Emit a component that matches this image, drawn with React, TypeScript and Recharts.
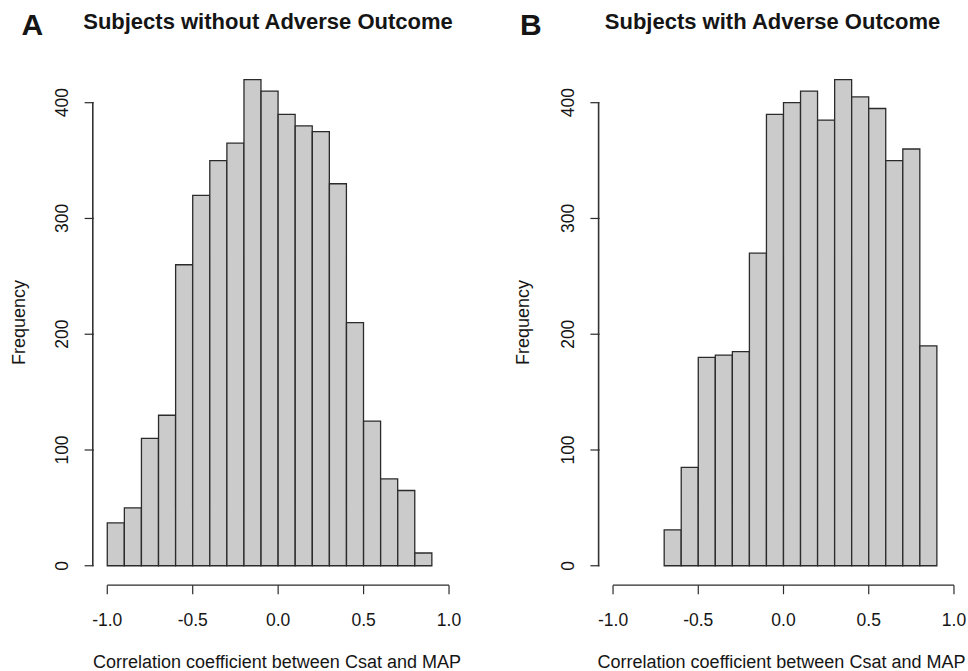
import React from 'react';
import { BarChart, Bar, XAxis, YAxis, ReferenceLine } from 'recharts';

// Bin start labels (bin width 0.1, from -1.0 to 1.0)
const binStarts = ['-1.0', '-0.9', '-0.8', '-0.7', '-0.6', '-0.5', '-0.4', '-0.3', '-0.2', '-0.1', '0.0', '0.1', '0.2', '0.3', '0.4', '0.5', '0.6', '0.7', '0.8', '0.9'];
const binMids = [-0.95, -0.85, -0.75, -0.65, -0.55, -0.45, -0.35, -0.25, -0.15, -0.05, 0.05, 0.15, 0.25, 0.35, 0.45, 0.55, 0.65, 0.75, 0.85, 0.95];

// Panel A: subjects without adverse outcome
const withoutCounts: (number | null)[] = [37, 50, 110, 130, 260, 320, 350, 365, 420, 410, 390, 380, 375, 330, 210, 125, 75, 65, 11, null];
// Panel B: subjects with adverse outcome
const withCounts: (number | null)[] = [null, null, null, 31, 85, 180, 182, 185, 270, 390, 400, 410, 385, 420, 405, 395, 350, 360, 190, null];

const xTicks = [-1, -0.5, 0, 0.5, 1];
const yTicks = [0, 100, 200, 300, 400];
const xDomain: [number, number] = [-1.08, 1.08];
const yDomain: [number, number] = [-16.8, 436.8];

const titleA = 'Subjects without Adverse Outcome';
const titleB = 'Subjects with Adverse Outcome';
const xLabel = 'Correlation coefficient between Csat and MAP';
const yLabel = 'Frequency';

const FONT = '"Liberation Sans", Arial, Helvetica, sans-serif';
const INK = '#151515';
const LINE = '#2b2b2b';

const CH_W = 484;
const CH_H = 671;
const PLOT_TOP = 60.1;
const PLOT_BOTTOM = 585.2;
const YAXIS_W = 60;
const XAXIS_H = 30;
const Y_TICK_SIZE = 9;
const Y_TICK_MARGIN = 16.3;
const PX_PER_UNIT = (PLOT_BOTTOM - PLOT_TOP) / (yDomain[1] - yDomain[0]);

// Y tick: rotated label (R style) plus the piece of axis line up to the next tick,
// so the axis line spans only the tick range, as in R.
const YTick = (props: any) => {
  const { x, y, payload } = props;
  const axisX = x + Y_TICK_SIZE + Y_TICK_MARGIN - 0.8;
  const v = Number(payload.value);
  const i = yTicks.indexOf(v);
  const next = i >= 0 ? yTicks[i + 1] : undefined;
  return (
    <g>
      {next !== undefined && (
        <line x1={axisX} y1={y + 0.6} x2={axisX} y2={y - (next - v) * PX_PER_UNIT - 0.6} stroke="#333333" strokeWidth={1.6} />
      )}
      <text x={x} y={y} transform={`rotate(-90, ${x}, ${y})`} textAnchor="middle" fontSize={17.5} fill={INK} fontFamily={FONT}>
        {payload.value}
      </text>
    </g>
  );
};

function Panel({ counts, plotLeft, plotRight }: { counts: (number | null)[]; plotLeft: number; plotRight: number }) {
  const plotW = plotRight - plotLeft;
  const pad = (plotW * 0.08) / 2.16;
  const data = binStarts.map((b, i) => ({ bin: b, mid: binMids[i], count: counts[i] }));
  return (
    <BarChart
      width={CH_W}
      height={CH_H}
      data={data}
      margin={{ top: PLOT_TOP, right: CH_W - plotRight, bottom: CH_H - PLOT_BOTTOM - XAXIS_H, left: plotLeft - YAXIS_W }}
      barCategoryGap={0}
      barGap={0}
    >
      <XAxis xAxisId="num" dataKey="mid" type="number" domain={xDomain} allowDataOverflow ticks={xTicks} interval={0} height={XAXIS_H}
        axisLine={false} tickLine={{ stroke: LINE, strokeWidth: 1.2 }} tickSize={9} tickMargin={19.4}
        tickFormatter={(v: number) => v.toFixed(1)} tick={{ fontSize: 17.5, fill: INK, fontFamily: FONT }} />
      <XAxis xAxisId="bins" dataKey="bin" type="category" hide height={0} padding={{ left: pad, right: pad }} />
      <YAxis yAxisId="y" type="number" domain={yDomain} allowDataOverflow ticks={yTicks} interval={0} width={YAXIS_W}
        axisLine={false} tickLine={{ stroke: LINE, strokeWidth: 1.2 }} tickSize={Y_TICK_SIZE} tickMargin={Y_TICK_MARGIN} tick={<YTick />} />
      <Bar xAxisId="bins" yAxisId="y" dataKey="count" fill="#cbcbcb" stroke={LINE} strokeWidth={1.3} isAnimationActive={false} />
      <ReferenceLine xAxisId="num" yAxisId="y"
        segment={[{ x: xTicks[0], y: yDomain[0] }, { x: xTicks[xTicks.length - 1], y: yDomain[0] }]}
        stroke={LINE} strokeWidth={1.2} ifOverflow="visible" />
    </BarChart>
  );
}

export default function App() {
  return (
    <div style={{ position: 'absolute', left: 0, top: 0, width: 968, height: 671, background: '#fff', fontFamily: FONT }}>
      <div style={{ position: 'absolute', left: 0, top: 0 }}>
        <Panel counts={withoutCounts} plotLeft={93.6} plotRight={462.7} />
      </div>
      <div style={{ position: 'absolute', left: 484, top: 0 }}>
        <Panel counts={withCounts} plotLeft={115.4} plotRight={483.6} />
      </div>
      <svg width={968} height={671} style={{ position: 'absolute', left: 0, top: 0, pointerEvents: 'none' }}>
        <g fontFamily={FONT} fill={INK}>
          <text x={21.5} y={35} fontSize={30} fontWeight="bold">A</text>
          <text x={520} y={35} fontSize={30} fontWeight="bold">B</text>
          <text x={268} y={28.5} fontSize={22} fontWeight="bold" textAnchor="middle">{titleA}</text>
          <text x={772.5} y={28.5} fontSize={22} fontWeight="bold" textAnchor="middle">{titleB}</text>
          <text x={277} y={668} fontSize={18} textAnchor="middle">{xLabel}</text>
          <text x={781.5} y={668} fontSize={18} textAnchor="middle">{xLabel}</text>
          <text x={25} y={322.5} fontSize={18} textAnchor="middle" transform="rotate(-90, 25, 322.5)">{yLabel}</text>
          <text x={529} y={322.5} fontSize={18} textAnchor="middle" transform="rotate(-90, 529, 322.5)">{yLabel}</text>
        </g>
      </svg>
    </div>
  );
}
